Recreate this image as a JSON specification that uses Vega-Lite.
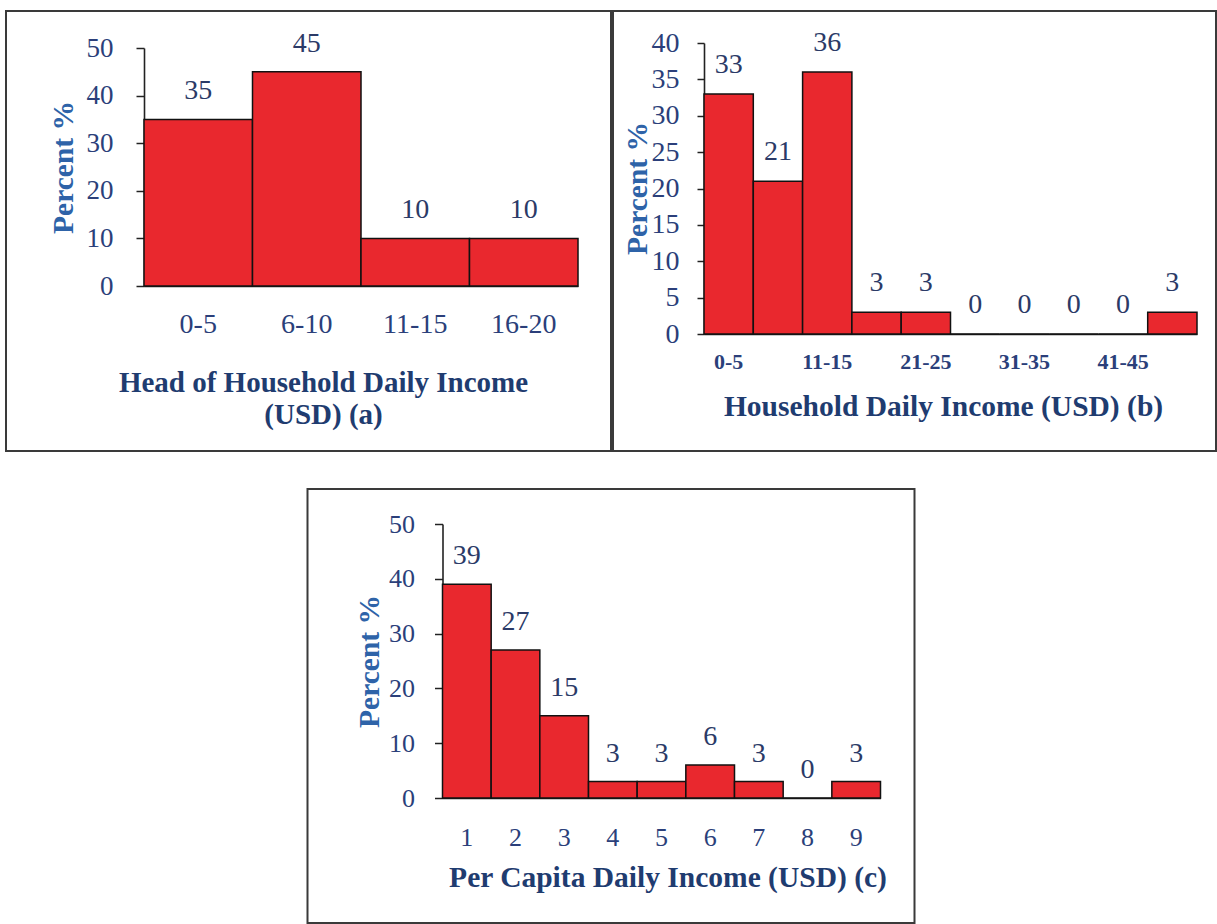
{
  "$schema": "https://vega.github.io/schema/vega-lite/v6.json",
  "description": "Daily income distributions (a), (b), (c)",
  "padding": {"left": 5, "top": 10, "right": 0, "bottom": 0},
  "spacing": 36,
  "center": true,
  "vconcat": [
    {
      "spacing": 0,
      "hconcat": [
        {
          "width": 605,
          "height": 440,
          "data": {
            "values": [
              {"income": "0-5", "percent": 35},
              {"income": "6-10", "percent": 45},
              {"income": "11-15", "percent": 10},
              {"income": "16-20", "percent": 10}
            ]
          },
          "encoding": {
            "x": {
              "field": "income", "type": "nominal", "sort": null,
              "scale": {"paddingInner": 0, "paddingOuter": 0, "range": [138, 572]},
              "axis": {
                "orient": "bottom", "offset": -165, "ticks": false,
                "labelPadding": 24, "labelFontSize": 28, "labelAngle": 0,
                "title": ["Head of Household Daily Income", "(USD) (a)"],
                "titleX": 317, "titleY": 105, "titleBaseline": "alphabetic", "titleAlign": "center",
                "titleLineHeight": 32, "titleFontSize": 29, "titleColor": "#1f3c70"
              }
            },
            "y": {
              "field": "percent", "type": "quantitative",
              "scale": {"domain": [0, 50], "nice": false, "range": [275, 37]},
              "axis": {
                "values": [0, 10, 20, 30, 40, 50],
                "offset": -138, "labelPadding": 23, "labelFontSize": 27,
                "title": "Percent %", "titleX": -81, "titleY": 156,
                "titleAngle": 270, "titleBaseline": "middle", "titleAlign": "center",
                "titleFontSize": 29.5, "titleColor": "#2e63a8"
              }
            }
          },
          "layer": [
            {
              "mark": {"type": "bar", "fill": "#e9282e", "stroke": "#111111", "strokeWidth": 1.5},
              "encoding": {"y2": {"datum": 0}}
            },
            {
              "mark": {"type": "text", "dy": -28, "baseline": "middle", "fontSize": 28, "font": "Liberation Serif", "color": "#2b3a67"},
              "encoding": {"text": {"field": "percent"}}
            }
          ]
        },
        {
          "width": 603,
          "height": 440,
          "data": {
            "values": [
              {"income": "0-5", "percent": 33},
              {"income": "6-10", "percent": 21},
              {"income": "11-15", "percent": 36},
              {"income": "16-20", "percent": 3},
              {"income": "21-25", "percent": 3},
              {"income": "26-30", "percent": 0},
              {"income": "31-35", "percent": 0},
              {"income": "36-40", "percent": 0},
              {"income": "41-45", "percent": 0},
              {"income": "46-50", "percent": 3}
            ]
          },
          "encoding": {
            "x": {
              "field": "income", "type": "nominal", "sort": null,
              "scale": {"paddingInner": 0, "paddingOuter": 0, "range": [91, 584]},
              "axis": {
                "orient": "bottom", "offset": -117, "ticks": false,
                "labelPadding": 17, "labelFontSize": 22, "labelFontWeight": "bold", "labelAngle": 0,
                "labelExpr": "indexof(['0-5', '11-15', '21-25', '31-35', '41-45'], datum.value) >= 0 ? datum.label : ''",
                "title": "Household Daily Income (USD) (b)",
                "titleX": 330, "titleY": 81, "titleBaseline": "alphabetic", "titleAlign": "center",
                "titleFontSize": 29.5, "titleColor": "#1f3c70"
              }
            },
            "y": {
              "field": "percent", "type": "quantitative",
              "scale": {"domain": [0, 40], "nice": false, "range": [323, 32]},
              "axis": {
                "values": [0, 5, 10, 15, 20, 25, 30, 35, 40],
                "offset": -91, "labelPadding": 18, "labelFontSize": 28, "tickSize": 7,
                "title": "Percent %", "titleX": -67, "titleY": 177,
                "titleAngle": 270, "titleBaseline": "middle", "titleAlign": "center",
                "titleFontSize": 29.5, "titleColor": "#2e63a8"
              }
            }
          },
          "layer": [
            {
              "mark": {"type": "bar", "fill": "#e9282e", "stroke": "#111111", "strokeWidth": 1.5},
              "encoding": {"y2": {"datum": 0}}
            },
            {
              "mark": {"type": "text", "dy": -29, "baseline": "middle", "fontSize": 28, "font": "Liberation Serif", "color": "#2b3a67"},
              "encoding": {"text": {"field": "percent"}}
            }
          ]
        }
      ]
    },
    {
      "width": 607,
      "height": 434,
      "data": {
        "values": [
          {"income": "1", "percent": 39},
          {"income": "2", "percent": 27},
          {"income": "3", "percent": 15},
          {"income": "4", "percent": 3},
          {"income": "5", "percent": 3},
          {"income": "6", "percent": 6},
          {"income": "7", "percent": 3},
          {"income": "8", "percent": 0},
          {"income": "9", "percent": 3}
        ]
      },
      "encoding": {
        "x": {
          "field": "income", "type": "nominal", "sort": null,
          "scale": {"paddingInner": 0, "paddingOuter": 0, "range": [135, 573]},
          "axis": {
            "orient": "bottom", "offset": -125, "ticks": false,
            "labelPadding": 26, "labelFontSize": 26, "labelAngle": 0,
            "title": "Per Capita Daily Income (USD) (c)",
            "titleX": 360, "titleY": 88, "titleBaseline": "alphabetic", "titleAlign": "center",
            "titleFontSize": 29.5, "titleColor": "#1f3c70"
          }
        },
        "y": {
          "field": "percent", "type": "quantitative",
          "scale": {"domain": [0, 50], "nice": false, "range": [309, 35]},
          "axis": {
            "values": [0, 10, 20, 30, 40, 50],
            "offset": -135, "labelPadding": 20, "labelFontSize": 26,
            "title": "Percent %", "titleX": -73, "titleY": 172,
            "titleAngle": 270, "titleBaseline": "middle", "titleAlign": "center",
            "titleFontSize": 29.5, "titleColor": "#2e63a8"
          }
        }
      },
      "layer": [
        {
          "mark": {"type": "bar", "fill": "#e9282e", "stroke": "#111111", "strokeWidth": 1.5},
          "encoding": {"y2": {"datum": 0}}
        },
        {
          "mark": {"type": "text", "dy": -28, "baseline": "middle", "fontSize": 28, "font": "Liberation Serif", "color": "#2b3a67"},
          "encoding": {"text": {"field": "percent"}}
        }
      ]
    }
  ],
  "config": {
    "view": {"stroke": "#3a3a3a", "strokeWidth": 2},
    "axis": {
      "grid": false,
      "domain": true,
      "domainColor": "#222222",
      "domainWidth": 1.6,
      "labelFont": "Liberation Serif",
      "labelColor": "#2b3f7a",
      "titleFont": "Liberation Serif",
      "titleFontWeight": "bold",
      "tickColor": "#222222",
      "tickWidth": 1.5,
      "tickSize": 8,
      "labelOverlap": false,
      "zindex": 1
    }
  }
}
